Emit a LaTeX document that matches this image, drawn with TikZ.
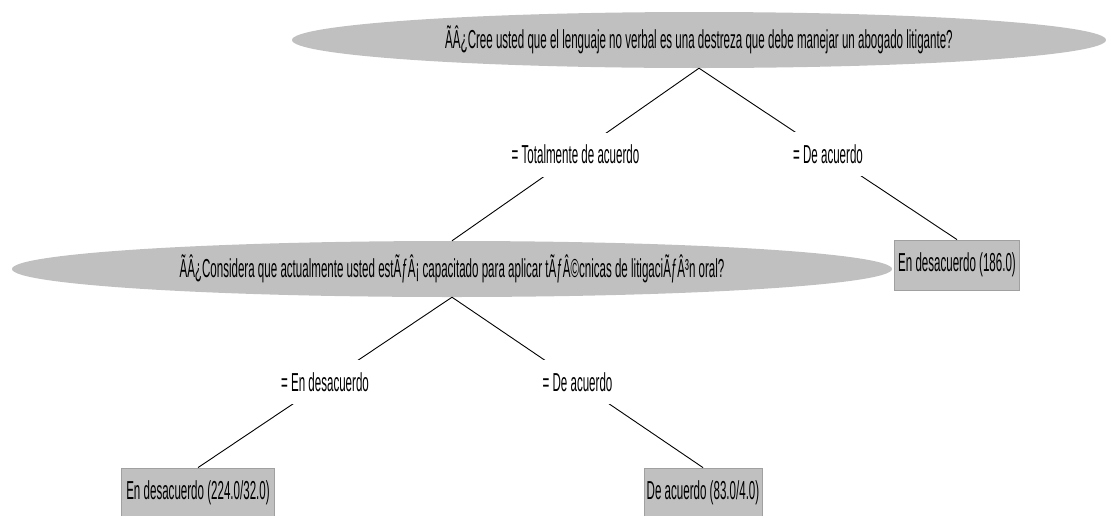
\documentclass[tikz,border=0pt]{standalone}
\usepackage{fontspec}
\setmainfont{Liberation Sans}[FakeStretch=0.445]
\usetikzlibrary{shapes.geometric}
\definecolor{wekagray}{RGB}{192,192,192}
\definecolor{wekaedge}{RGB}{160,160,160}
\tikzset{
  splitnode/.style={ellipse, fill=wekagray, inner sep=0pt, minimum height=56pt},
  leafnode/.style={rectangle, fill=wekagray, draw=wekaedge, line width=0.8pt,
    inner sep=0pt, minimum height=50pt},
  edgelabel/.style={fill=white, inner xsep=2pt, inner ysep=0pt, minimum height=44pt},
  treeedge/.style={line width=0.9pt}
}
\begin{document}
\begin{tikzpicture}[x=1pt,y=-1pt,font=\fontsize{26}{28}\selectfont]
\useasboundingbox (0,0) rectangle (1106,515);
% decision nodes
\node[splitnode, minimum width=814pt] (lenguaje) at (699,40)
  {ÃÂ¿Cree usted que el lenguaje no verbal es una destreza que debe manejar un abogado litigante?};
\node[splitnode, minimum width=880pt] (tecnicas) at (452,269)
  {ÃÂ¿Considera que actualmente usted estÃƒÂ¡ capacitado para aplicar tÃƒÂ©cnicas de litigaciÃƒÂ³n oral?};
% leaves
\node[leafnode, minimum width=125pt] (hoja186) at (957,265) {En desacuerdo (186.0)};
\node[leafnode, minimum width=153pt] (hoja224) at (198,493) {En desacuerdo (224.0/32.0)};
\node[leafnode, minimum width=118pt] (hoja83) at (703,493) {De acuerdo (83.0/4.0)};
% edges
\draw[treeedge] (lenguaje.south) -- node[edgelabel] {= Totalmente de acuerdo} (tecnicas.north);
\draw[treeedge] (lenguaje.south) -- node[edgelabel] {= De acuerdo} (hoja186.north);
\draw[treeedge] (tecnicas.south) -- node[edgelabel] {= En desacuerdo} (hoja224.north);
\draw[treeedge] (tecnicas.south) -- node[edgelabel] {= De acuerdo} (hoja83.north);
\end{tikzpicture}
\end{document}
